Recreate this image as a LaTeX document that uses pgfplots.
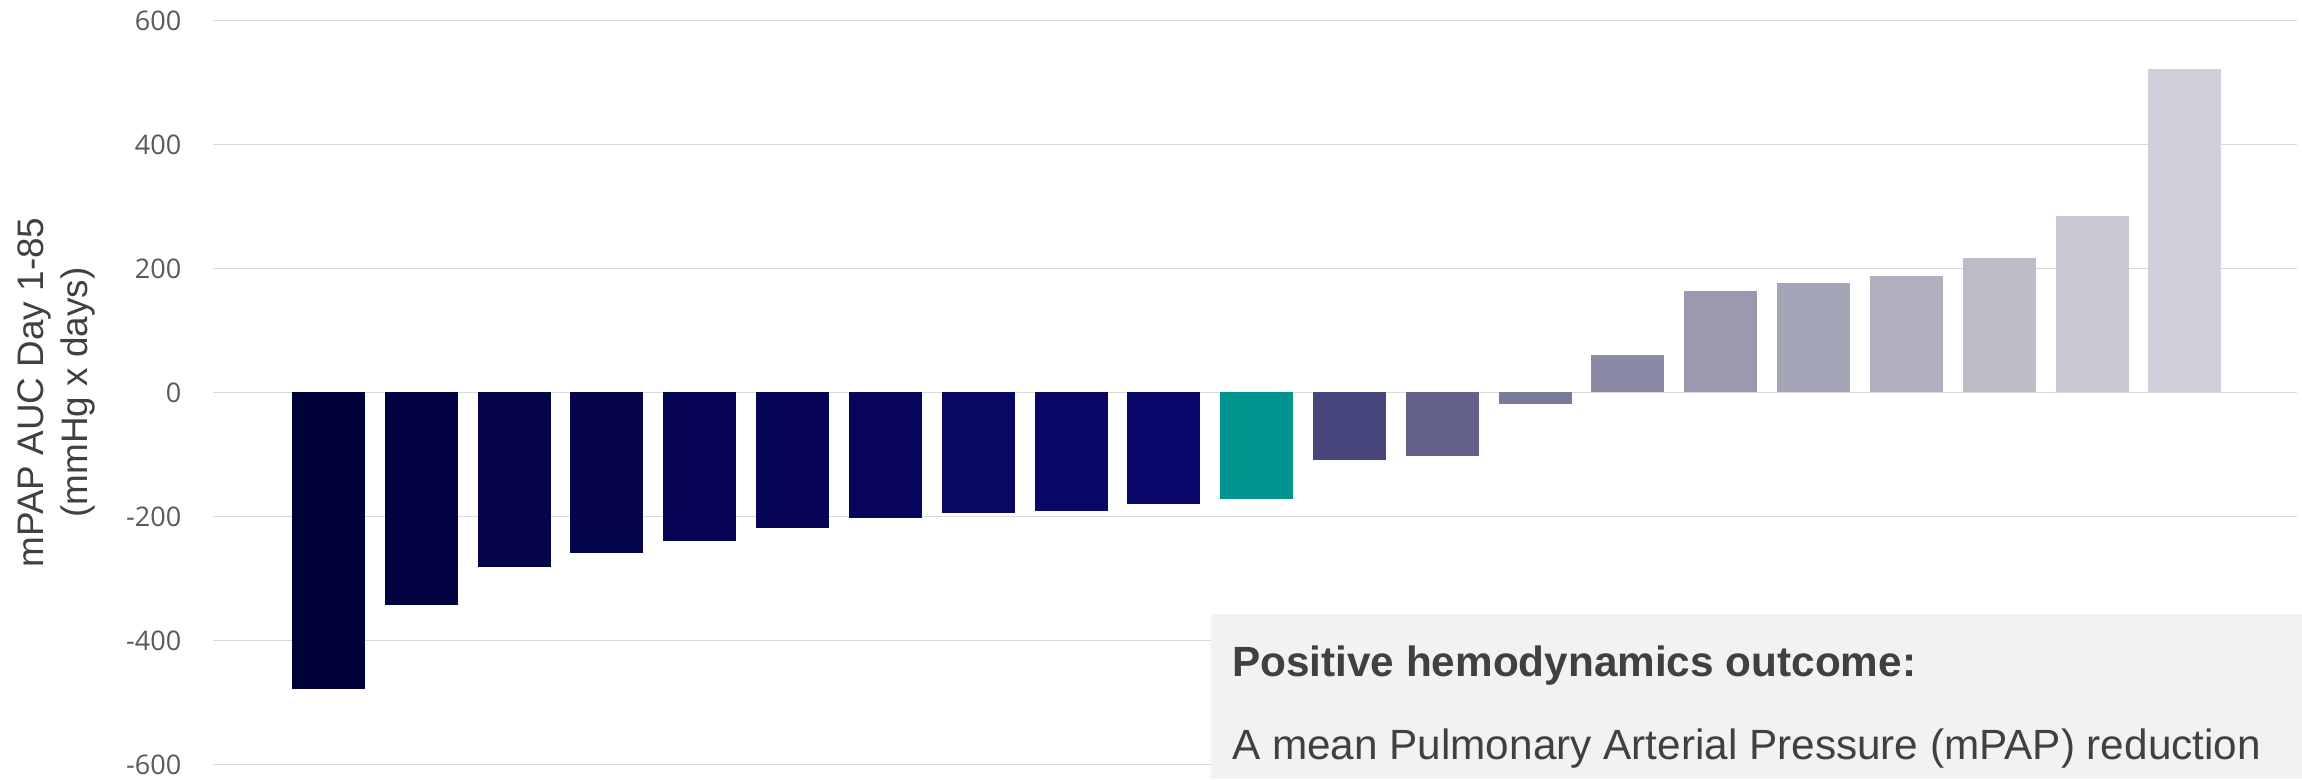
\documentclass[border=0pt]{standalone}
\usepackage{pgfplots}
\pgfplotsset{compat=1.18}
\usepackage{fontspec}
\setmainfont{Liberation Sans}
\newfontfamily\tickfont{Open Sans}
\definecolor{c1}{HTML}{02023B}
\definecolor{c2}{HTML}{030343}
\definecolor{c3}{HTML}{040449}
\definecolor{c4}{HTML}{05054E}
\definecolor{c5}{HTML}{060553}
\definecolor{c6}{HTML}{060557}
\definecolor{c7}{HTML}{07065C}
\definecolor{c8}{HTML}{080761}
\definecolor{c9}{HTML}{090765}
\definecolor{c10}{HTML}{0A086A}
\definecolor{c11}{HTML}{009490}
\definecolor{c12}{HTML}{46457C}
\definecolor{c13}{HTML}{63618C}
\definecolor{c14}{HTML}{7A7A99}
\definecolor{c15}{HTML}{8A89A6}
\definecolor{c16}{HTML}{9B99B0}
\definecolor{c17}{HTML}{A5A5B8}
\definecolor{c18}{HTML}{B1B0C1}
\definecolor{c19}{HTML}{BCBBC8}
\definecolor{c20}{HTML}{C8C7D2}
\definecolor{c21}{HTML}{D0D0DA}
\definecolor{gridc}{HTML}{D9D9D9}
\definecolor{tickc}{HTML}{595959}
\definecolor{txtc}{HTML}{404040}
\definecolor{boxc}{HTML}{F2F2F2}
\begin{document}
\begin{tikzpicture}
\begin{axis}[
  name=ax,
  at={(71.1pt,-6.83pt)}, anchor=north west,
  scale only axis,
  width=694.6pt, height=248pt,
  xmin=-0.241, xmax=22.21,
  ymin=-600, ymax=600,
  ytick={-600,-400,-200,0,200,400,600},
  yticklabels={-600,-400,-200,0,200,400,600},
  xtick=\empty,
  axis line style={draw=none},
  major tick length=0pt,
  ymajorgrids,
  grid style={gridc, line width=0.55pt},
  yticklabel style={font=\tickfont\fontsize{9}{10}\selectfont, text=tickc, anchor=east, inner sep=0pt, xshift=-10.5pt},
  ybar,
  bar width=0.787,
  every axis plot/.append style={bar shift=0pt, draw=none},
  clip=false,
]
\addplot[fill=c1] coordinates {(1,-479)};
\addplot[fill=c2] coordinates {(2,-343)};
\addplot[fill=c3] coordinates {(3,-282)};
\addplot[fill=c4] coordinates {(4,-259)};
\addplot[fill=c5] coordinates {(5,-240)};
\addplot[fill=c6] coordinates {(6,-219)};
\addplot[fill=c7] coordinates {(7,-203)};
\addplot[fill=c8] coordinates {(8,-195)};
\addplot[fill=c9] coordinates {(9,-191)};
\addplot[fill=c10] coordinates {(10,-180)};
\addplot[fill=c11] coordinates {(11,-172)};
\addplot[fill=c12] coordinates {(12,-109)};
\addplot[fill=c13] coordinates {(13,-103)};
\addplot[fill=c14] coordinates {(14,-19)};
\addplot[fill=c15] coordinates {(15,60)};
\addplot[fill=c16] coordinates {(16,163)};
\addplot[fill=c17] coordinates {(17,176)};
\addplot[fill=c18] coordinates {(18,188)};
\addplot[fill=c19] coordinates {(19,217)};
\addplot[fill=c20] coordinates {(20,284)};
\addplot[fill=c21] coordinates {(21,521)};
\end{axis}
\node[rotate=90, align=center, font=\fontsize{12.3}{14.7}\selectfont, text=txtc, inner sep=0pt] at ([xshift=-52.4pt]ax.west) {mPAP AUC Day 1-85\\(mmHg x days)};
\fill[boxc] (403.7pt,-204.7pt) rectangle (767.33pt,-259.67pt);
\node[anchor=base west, inner sep=0pt, font=\bfseries\fontsize{14.1}{16}\selectfont, text=txtc] at (410.5pt,-225.6pt) {Positive hemodynamics outcome:};
\node[anchor=base west, inner sep=0pt, font=\fontsize{14.1}{16}\selectfont, text=txtc] at (410.5pt,-253.1pt) {A mean Pulmonary Arterial Pressure (mPAP) reduction};
\pgfresetboundingbox
\path[use as bounding box] (0pt,0pt) rectangle (767.33pt,-259.67pt);
\end{tikzpicture}
\end{document}
